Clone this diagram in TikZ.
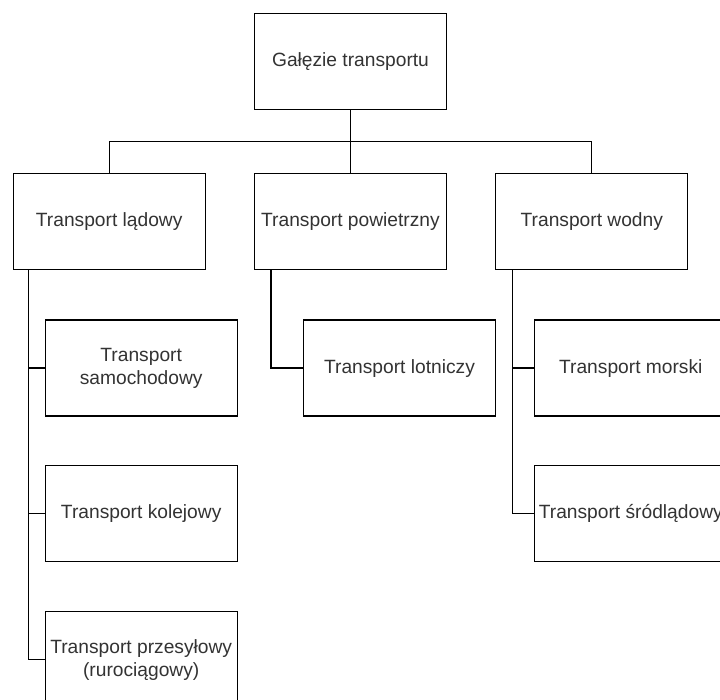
\documentclass[tikz,border=0pt]{standalone}
\usepackage{fontspec}
\setmainfont{Liberation Sans}
\usepackage{xcolor}
\usepackage{tikz}
\usetikzlibrary{positioning,calc}

\begin{document}
\begin{tikzpicture}[
  box/.style={rectangle, draw=black, line width=1.3pt, fill=white,
              minimum width=192pt, minimum height=96pt, inner sep=2pt,
              text=black!80, align=center,
              font=\fontsize{19.2pt}{23pt}\selectfont},
  link/.style={draw=black, line width=1.3pt}
]
\useasboundingbox (0,0) rectangle (720pt,-700pt);

\node[box] (root) at (350.5pt,-61.5pt) {Gałęzie transportu};

\node[box, below=63pt of root] (air) {Transport powietrzny};
\node[box, left=48pt of air]  (land)  {Transport lądowy};
\node[box, right=48pt of air] (water) {Transport wodny};

% dzieci: transport ladowy
\node[box, below=49pt of land, xshift=32pt] (road) {Transport\\samochodowy};
\node[box, below=48pt of road] (rail) {Transport kolejowy};
\node[box, below=49pt of rail] (pipe) {Transport przesyłowy\\(rurociągowy)};

% dzieci: transport powietrzny
\node[box, below=49pt of air, xshift=49pt] (avia) {Transport lotniczy};

% dzieci: transport wodny
\node[box, below=49pt of water, xshift=39pt] (sea) {Transport morski};
\node[box, below=48pt of sea] (inland) {Transport śródlądowy};

\draw[link](root.south) -- ++(0,-31.5pt) coordinate (bar);
\draw[link](bar) -| (land.north);
\draw[link](bar) -| (water.north);
\draw[link](bar) -- (air.north);

\draw[link]($(land.south west)+(16pt,0)$) coordinate (lx) |- (road.west);
\draw[link](lx) |- (rail.west);
\draw[link](lx) |- (pipe.west);

\draw[link]($(air.south west)+(17pt,0)$) |- (avia.west);

\draw[link]($(water.south west)+(17pt,0)$) coordinate (wx) |- (sea.west);
\draw[link](wx) |- (inland.west);

\end{tikzpicture}
\end{document}
